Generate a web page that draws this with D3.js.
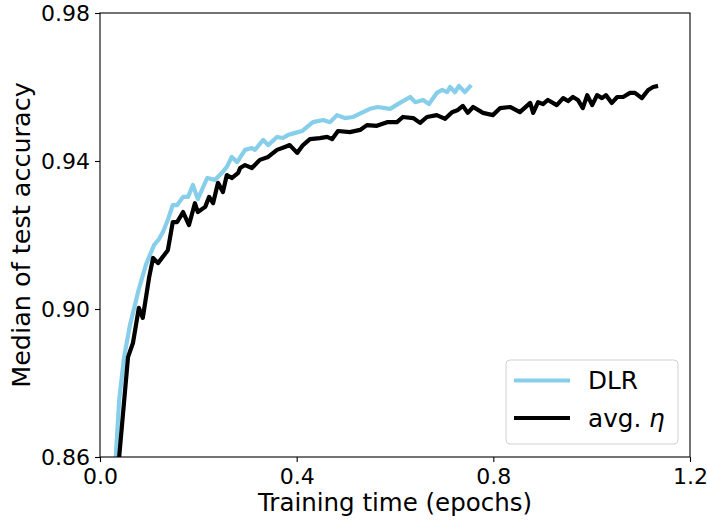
<!DOCTYPE html>
<html>
<head>
<meta charset="utf-8">
<script src="https://cdn.jsdelivr.net/npm/d3@7"></script>
<style>
  body { margin: 0; background: #fff; }
  text { font-family: "DejaVu Sans", sans-serif; }
</style>
</head>
<body>
<div id="chart"></div>
<script>
// DLR series (epochs, median test accuracy)
var dlrEpochs = [0.031, 0.039, 0.049, 0.061, 0.079, 0.094, 0.110, 0.120, 0.128, 0.138,
  0.148, 0.157, 0.169, 0.179, 0.189, 0.199, 0.218, 0.234, 0.248, 0.258,
  0.268, 0.279, 0.295, 0.309, 0.315, 0.332, 0.342, 0.360, 0.372, 0.382,
  0.397, 0.411, 0.433, 0.454, 0.468, 0.482, 0.498, 0.515, 0.535, 0.549,
  0.565, 0.590, 0.610, 0.631, 0.641, 0.657, 0.669, 0.685, 0.696, 0.706,
  0.712, 0.722, 0.730, 0.742, 0.755]
var dlrAcc = [0.8576, 0.8754, 0.8870, 0.8957, 0.9054, 0.9122, 0.9173, 0.9189, 0.9208, 0.9241,
  0.9281, 0.9281, 0.9303, 0.9303, 0.9335, 0.9297, 0.9354, 0.9349, 0.9368, 0.9384,
  0.9411, 0.9397, 0.9430, 0.9435, 0.9430, 0.9457, 0.9443, 0.9465, 0.9462, 0.9470,
  0.9476, 0.9481, 0.9505, 0.9511, 0.9505, 0.9524, 0.9516, 0.9519, 0.9532, 0.9541,
  0.9546, 0.9541, 0.9557, 0.9573, 0.9559, 0.9565, 0.9554, 0.9584, 0.9592, 0.9586,
  0.9600, 0.9586, 0.9603, 0.9586, 0.9605]

// avg. eta series
var avgEpochs = [0.037, 0.057, 0.067, 0.079, 0.087, 0.100, 0.108, 0.118, 0.138, 0.148,
  0.157, 0.169, 0.181, 0.193, 0.199, 0.214, 0.222, 0.230, 0.240, 0.250,
  0.258, 0.268, 0.281, 0.285, 0.295, 0.309, 0.325, 0.342, 0.360, 0.376,
  0.386, 0.401, 0.413, 0.427, 0.447, 0.462, 0.472, 0.484, 0.508, 0.529,
  0.543, 0.563, 0.584, 0.604, 0.616, 0.637, 0.651, 0.665, 0.685, 0.702,
  0.716, 0.728, 0.738, 0.748, 0.759, 0.779, 0.799, 0.814, 0.834, 0.854,
  0.875, 0.881, 0.891, 0.901, 0.911, 0.929, 0.942, 0.952, 0.962, 0.972,
  0.982, 0.991, 1.001, 1.011, 1.021, 1.029, 1.041, 1.052, 1.064, 1.078,
  1.088, 1.102, 1.115, 1.125, 1.135]
var avgAcc = [0.8570, 0.8870, 0.8908, 0.9003, 0.8976, 0.9086, 0.9138, 0.9124, 0.9159, 0.9235,
  0.9235, 0.9262, 0.9227, 0.9286, 0.9262, 0.9276, 0.9303, 0.9286, 0.9341, 0.9316,
  0.9362, 0.9354, 0.9368, 0.9381, 0.9389, 0.9381, 0.9403, 0.9411, 0.9430, 0.9438,
  0.9443, 0.9422, 0.9443, 0.9459, 0.9462, 0.9465, 0.9459, 0.9481, 0.9478, 0.9484,
  0.9497, 0.9495, 0.9505, 0.9505, 0.9519, 0.9516, 0.9503, 0.9519, 0.9524, 0.9514,
  0.9532, 0.9538, 0.9549, 0.9530, 0.9546, 0.9530, 0.9524, 0.9543, 0.9546, 0.9532,
  0.9557, 0.9530, 0.9559, 0.9554, 0.9565, 0.9551, 0.9570, 0.9562, 0.9573, 0.9565,
  0.9543, 0.9578, 0.9551, 0.9578, 0.9570, 0.9578, 0.9557, 0.9573, 0.9573, 0.9584,
  0.9584, 0.9570, 0.9592, 0.9600, 0.9603]

var xTicks = [0.0, 0.4, 0.8, 1.2]
var yTicks = [0.86, 0.90, 0.94, 0.98]
var seriesNames = ["DLR", "avg. "]
var seriesColors = ["#87ceeb", "#000000"]

var width = 707
var height = 522
var margin = { left: 100, right: 17, top: 13, bottom: 65 }
var plotW = width - margin.left - margin.right
var plotH = height - margin.top - margin.bottom

var svg = d3.select("#chart").append("svg")
  .attr("width", width)
  .attr("height", height)

var x = d3.scaleLinear().domain([0, 1.2]).range([0, plotW])
var y = d3.scaleLinear().domain([0.86, 0.98]).range([plotH, 0])

var g = svg.append("g")
  .attr("transform", "translate(" + margin.left + "," + margin.top + ")")

g.append("clipPath").attr("id", "clip")
  .append("rect").attr("width", plotW).attr("height", plotH)

var line = d3.line()
  .x(function (d) { return x(d[0]) })
  .y(function (d) { return y(d[1]) })

var series = [
  d3.zip(dlrEpochs, dlrAcc),
  d3.zip(avgEpochs, avgAcc)
]

// black drawn over blue
series.forEach(function (s, i) {
  g.append("path")
    .datum(s)
    .attr("clip-path", "url(#clip)")
    .attr("fill", "none")
    .attr("stroke", seriesColors[i])
    .attr("stroke-width", 4.2)
    .attr("stroke-linejoin", "round")
    .attr("d", line)
})

// axes
var xAxis = g.append("g")
  .attr("transform", "translate(0," + plotH + ")")
  .call(d3.axisBottom(x).tickValues(xTicks).tickFormat(d3.format(".1f")).tickSize(5).tickSizeOuter(0))
var yAxis = g.append("g")
  .call(d3.axisLeft(y).tickValues(yTicks).tickFormat(d3.format(".2f")).tickSize(5).tickSizeOuter(0))

;[xAxis, yAxis].forEach(function (a) {
  a.select(".domain").remove()
  a.selectAll("line").attr("stroke", "#000").attr("stroke-width", 1.1)
  a.selectAll("text").attr("fill", "#000").style("font-size", "22px")
})
xAxis.selectAll("text").attr("y", 26.5).attr("dy", 0)
yAxis.selectAll("text").attr("x", -10).attr("dy", "0.36em")

// frame
g.append("rect")
  .attr("width", plotW)
  .attr("height", plotH)
  .attr("fill", "none")
  .attr("stroke", "#000")
  .attr("stroke-width", 1.1)

// axis labels
svg.append("text")
  .attr("x", margin.left + plotW / 2)
  .attr("y", 511)
  .attr("text-anchor", "middle")
  .style("font-size", "24.5px")
  .text("Training time (epochs)")

svg.append("text")
  .attr("transform", "translate(30," + (margin.top + plotH / 2) + ") rotate(-90)")
  .attr("text-anchor", "middle")
  .style("font-size", "25.5px")
  .text("Median of test accuracy")

// legend
var legend = svg.append("g").attr("transform", "translate(506,360)")
legend.append("rect")
  .attr("width", 172)
  .attr("height", 84)
  .attr("rx", 4)
  .attr("fill", "#fff")
  .attr("fill-opacity", 0.8)
  .attr("stroke", "#d0d0d0")

seriesNames.forEach(function (name, i) {
  var ly = 20.5 + i * 37.5
  legend.append("line")
    .attr("x1", 8).attr("x2", 64)
    .attr("y1", ly).attr("y2", ly)
    .attr("stroke", seriesColors[i])
    .attr("stroke-width", 4.2)
  var t = legend.append("text")
    .attr("x", 82)
    .attr("y", ly + 8.5)
    .style("font-size", "24.7px")
    .text(name)
  if (i == 1) {
    t.append("tspan").style("font-style", "italic").text("\u03b7")
  }
})
</script>
</body>
</html>
